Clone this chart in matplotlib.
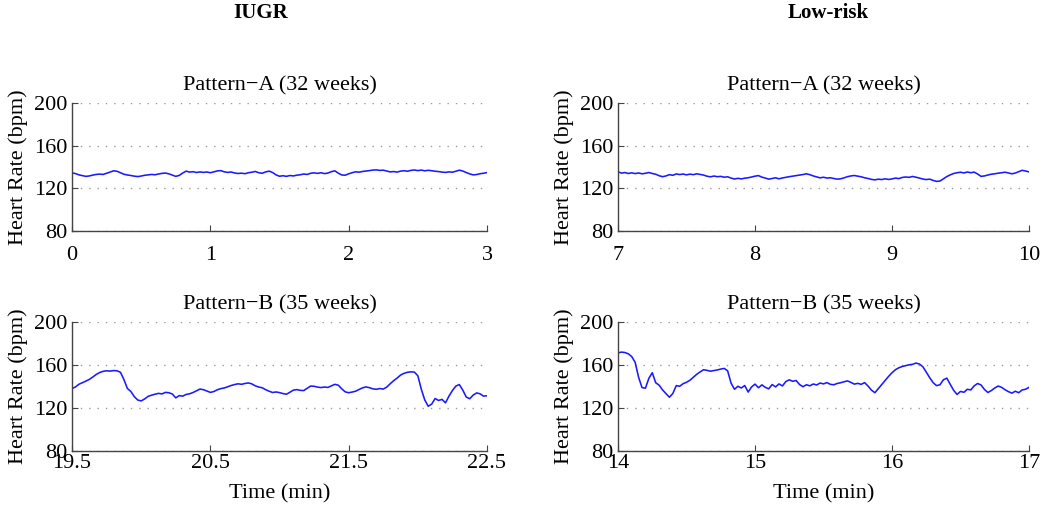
import numpy as np
import matplotlib
matplotlib.use("Agg")
import matplotlib.pyplot as plt

plt.rcParams["font.family"] = ["Liberation Serif", "DejaVu Serif"]

# sampling of the traces (minutes)
DT = 0.025

# IUGR, pattern A (32 weeks), starts at 0 min
iugr_a_t0 = 0.0
iugr_a_hr = [
    134.5, 133.8, 132.6, 131.9, 131.2, 131.6, 132.4, 133.0, 133.3, 133.0,
    134.1, 135.2, 136.4, 136.0, 134.6, 133.2, 132.5, 132.0, 131.4, 131.0,
    131.5, 132.2, 132.6, 133.0, 132.7, 133.4, 134.0, 134.3, 133.6, 132.4,
    131.2, 132.1, 134.3, 136.1, 135.2, 135.6, 134.8, 135.4, 134.9, 135.3,
    134.6, 135.4, 136.3, 136.6, 135.5, 134.9, 135.3, 134.4, 133.9, 134.2,
    133.7, 134.6, 135.1, 135.8, 134.6, 134.1, 135.4, 136.1, 134.8, 132.6,
    131.3, 131.8, 131.2, 132.0, 131.6, 132.3, 132.7, 133.4, 133.0, 134.1,
    134.5, 134.0, 134.6, 133.8, 134.3, 135.6, 136.4, 134.2, 132.5, 132.3,
    133.6, 134.6, 135.5, 135.1, 135.8, 136.2, 136.6, 137.1, 137.3, 136.8,
    137.0, 136.2, 135.4, 135.7, 135.2, 136.1, 136.5, 136.0, 136.8, 137.2,
    136.6, 137.1, 136.4, 136.9, 136.5, 136.0, 135.7, 135.2, 134.9, 135.4,
    135.1, 136.0, 137.0, 136.2, 134.8, 133.5, 132.6, 132.9, 133.7, 134.1,
    134.8,
]

# Low-risk, pattern A (32 weeks), starts at 7 min
low_a_t0 = 7.0
low_a_hr = [
    135.6, 134.2, 134.8, 133.9, 134.5, 133.8, 134.4, 133.6, 134.1, 134.8,
    133.9, 133.2, 131.8, 130.9, 131.6, 132.8, 132.2, 133.5, 132.9, 133.4,
    132.6, 133.3, 132.8, 133.6, 133.0, 132.4, 131.3, 130.8, 131.5, 130.9,
    131.2, 130.4, 130.8, 129.6, 128.7, 129.4, 128.8, 129.5, 129.9, 130.6,
    131.4, 131.9, 130.5, 129.6, 128.6, 129.2, 129.9, 128.9, 129.7, 130.3,
    130.9, 131.4, 131.9, 132.4, 132.9, 133.6, 132.8, 131.6, 130.7, 129.8,
    130.4, 129.6, 129.9, 129.2, 128.6, 128.9, 129.8, 130.9, 131.6, 132.0,
    131.4, 130.8, 129.9, 129.2, 128.4, 127.9, 128.6, 128.2, 128.9, 128.3,
    128.8, 129.6, 129.1, 130.2, 130.6, 130.3, 131.1, 130.4, 129.6, 128.7,
    128.2, 128.6, 127.4, 126.5, 126.8, 128.9, 131.0, 132.6, 133.9, 134.6,
    135.1, 134.4, 135.3, 134.6, 135.2, 133.4, 131.2, 131.6, 132.5, 133.2,
    133.6, 134.2, 134.6, 135.1, 134.4, 133.6, 134.3, 135.6, 136.9, 136.2,
    135.4,
]

# IUGR, pattern B (35 weeks), starts at 19.5 min
iugr_b_t0 = 19.5
iugr_b_hr = [
    138.0, 139.6, 142.1, 143.5, 145.0, 146.6, 148.8, 151.2, 153.0, 154.1,
    154.6, 154.3, 154.8, 154.6, 153.2, 146.5, 138.2, 135.4, 130.6, 127.4,
    126.6, 128.4, 130.8, 131.9, 132.8, 133.6, 133.1, 134.5, 134.2, 133.0,
    129.4, 131.5, 131.0, 132.6, 133.2, 134.4, 136.0, 137.6, 137.0, 135.8,
    134.5, 135.3, 136.9, 138.0, 138.6, 139.7, 140.9, 141.8, 142.5, 142.0,
    142.8, 143.3, 142.4, 140.6, 139.5, 138.8, 137.0, 135.6, 134.4, 134.9,
    134.3, 133.4, 132.8, 134.6, 136.6, 137.1, 136.4, 136.2, 138.3, 140.4,
    140.2, 139.4, 139.0, 139.5, 139.1, 140.6, 142.0, 141.2, 137.8, 135.0,
    134.2, 134.8, 135.6, 137.2, 138.7, 139.6, 138.9, 137.8, 137.4, 138.1,
    137.6, 139.4, 142.5, 145.4, 147.8, 150.6, 152.2, 153.2, 153.6, 153.4,
    150.0, 137.5, 127.5, 121.6, 123.6, 128.8, 127.0, 128.0, 124.8, 131.0,
    136.2, 140.4, 141.8, 136.6, 130.2, 128.6, 132.0, 134.0, 133.2, 131.0,
    131.4,
]

# Low-risk, pattern B (35 weeks), starts at 14 min
low_b_t0 = 14.0
low_b_hr = [
    171.2, 172.0, 171.6, 170.4, 167.8, 162.5, 148.6, 139.0, 138.4, 147.6,
    152.8, 143.5, 141.2, 136.8, 133.4, 130.0, 133.5, 140.8, 140.2, 142.6,
    143.9, 145.8, 148.6, 151.4, 153.6, 155.6, 155.0, 154.2, 154.8, 155.4,
    156.2, 156.8, 154.6, 143.2, 137.4, 140.2, 138.6, 140.9, 134.8, 139.6,
    142.2, 138.8, 141.5, 139.2, 137.8, 141.8, 139.6, 142.4, 140.5, 144.6,
    146.2, 144.8, 145.6, 141.8, 139.8, 141.6, 140.6, 142.3, 141.4, 143.2,
    142.4, 143.6, 142.0, 141.6, 142.8, 143.5, 144.4, 145.2, 143.8, 142.2,
    142.9, 142.0, 143.6, 140.4, 136.6, 134.2, 138.0, 141.8, 145.6, 149.4,
    152.8, 155.6, 157.4, 158.6, 159.4, 160.2, 160.6, 161.8, 160.9, 158.4,
    153.4, 148.2, 143.6, 140.8, 141.6, 146.2, 147.8, 142.0, 136.4, 132.6,
    135.4, 134.6, 137.4, 136.8, 140.6, 142.8, 141.4, 137.2, 134.4, 136.2,
    138.6, 140.4, 139.2, 137.0, 135.2, 133.8, 135.6, 134.2, 136.8, 137.4,
    139.2,
]

titles = ["Pattern\u2212A (32 weeks)", "Pattern\u2212A (32 weeks)",
          "Pattern\u2212B (35 weeks)", "Pattern\u2212B (35 weeks)"]
xticks = [[0, 1, 2, 3], [7, 8, 9, 10], [19.5, 20.5, 21.5, 22.5], [14, 15, 16, 17]]
xticklabels = [["0", "1", "2", "3"], ["7", "8", "9", "10"],
               ["19.5", "20.5", "21.5", "22.5"], ["14", "15", "16", "17"]]
yticks = [80, 120, 160, 200]

series = [(iugr_a_t0, iugr_a_hr), (low_a_t0, low_a_hr),
          (iugr_b_t0, iugr_b_hr), (low_b_t0, low_b_hr)]

# axes rectangles (figure fraction)
rects = [
    [0.0686, 0.5444, 0.3952, 0.2525],
    [0.5886, 0.5444, 0.3914, 0.2525],
    [0.0686, 0.1105, 0.3952, 0.2544],
    [0.5886, 0.1105, 0.3914, 0.2544],
]

fig = plt.figure(figsize=(10.5, 5.07), dpi=100)

for k, (t0, hr) in enumerate(series):
    ax = fig.add_axes(rects[k])
    hr = np.asarray(hr)
    t = t0 + np.arange(len(hr)) * DT
    ax.plot(t, hr, color="#1a1aff", lw=1.15)

    ax.set_xlim(xticks[k][0], xticks[k][-1])
    ax.set_ylim(80, 200)
    ax.set_xticks(xticks[k])
    ax.set_xticklabels(xticklabels[k])
    ax.set_yticks(yticks)
    ax.yaxis.grid(True, linestyle=(0, (1, 5)), color="#9a9a9a", lw=1.0)
    ax.set_axisbelow(True)

    for side in ("top", "right"):
        ax.spines[side].set_visible(False)
    for side in ("left", "bottom"):
        ax.spines[side].set_color("#444444")
        ax.spines[side].set_linewidth(1.0)

    xpad = 11 if k < 2 else 2
    ax.tick_params(axis="x", direction="in", length=4, labelsize=16, pad=xpad, color="#444444")
    ax.tick_params(axis="y", direction="in", length=4, labelsize=16, pad=3, color="#444444")

    ax.set_title(titles[k], fontsize=16, pad=9)
    ax.set_ylabel("Heart Rate (bpm)", fontsize=16, labelpad=5)
    if k >= 2:
        ax.set_xlabel("Time (min)", fontsize=16, labelpad=8)

fig.text(0.248, 0.974, "IUGR", ha="center", va="center", fontsize=15, fontweight="bold")
fig.text(0.789, 0.974, "Low-risk", ha="center", va="center", fontsize=15, fontweight="bold")

fig.savefig("out.png", dpi=100)
